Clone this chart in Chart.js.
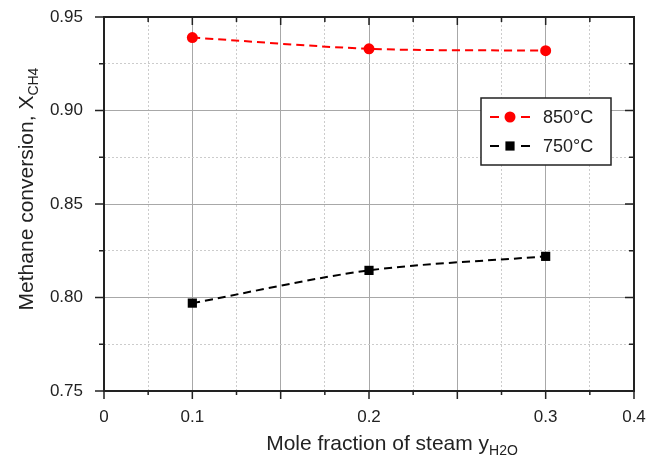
<!DOCTYPE html>
<html>
<head>
<meta charset="utf-8">
<title>Methane conversion vs steam fraction</title>
<script src="https://cdn.jsdelivr.net/npm/chart.js"></script>
<style>
  html, body { margin: 0; padding: 0; background: #fff; }
</style>
</head>
<body>
<canvas id="chart" width="661" height="457"></canvas>
<script>
// data
const steamFraction = [0.1, 0.2, 0.3];
const conv850 = [0.939, 0.933, 0.932];
const conv750 = [0.797, 0.8145, 0.822];
const seriesLabels = ['850°C', '750°C'];

// tick labels as printed on the original axes
const xTickValues = [0.05, 0.1, 0.2, 0.3, 0.35];
const xTickLabels = ['0', '0.1', '0.2', '0.3', '0.4'];
const yTickValues = [0.75, 0.8, 0.85, 0.9, 0.95];
const yTickLabels = ['0.75', '0.80', '0.85', '0.90', '0.95'];

const FONT = "'Liberation Sans', Arial, sans-serif";
const INK = '#222';

function isMajor(v) { return Math.round(v * 1000) % 50 === 0; }
function labelFor(values, labels, v) {
    const i = values.findIndex(t => Math.abs(t - v) < 1e-6);
    return i < 0 ? '' : labels[i];
}
const gridColor = c => (c.tick && isMajor(c.tick.value)) ? '#a8a8a8' : '#cccccc';
const gridDash = c => (c.tick && !isMajor(c.tick.value)) ? [2, 2] : [];

function drawSub(ctx, x, y, main, sub, size, subSize) {
    ctx.font = size + 'px ' + FONT;
    ctx.fillText(main, x, y);
    const w = ctx.measureText(main).width;
    ctx.font = subSize + 'px ' + FONT;
    ctx.fillText(sub, x + w, y + 5);
}
function subWidth(ctx, main, sub, size, subSize) {
    ctx.font = size + 'px ' + FONT;
    const w = ctx.measureText(main).width;
    ctx.font = subSize + 'px ' + FONT;
    return w + ctx.measureText(sub).width;
}

const decorations = {
    id: 'decorations',
    afterDatasetsDraw(chart) {
        const ctx = chart.ctx;
        const a = chart.chartArea;
        const xs = chart.scales.x, ys = chart.scales.y;
        ctx.save();
        ctx.strokeStyle = INK;
        ctx.lineWidth = 2;
        ctx.strokeRect(a.left, a.top, a.right - a.left, a.bottom - a.top);

        // tick marks: outward on left/bottom, inward on top/right
        ctx.lineWidth = 1.5;
        ctx.beginPath();
        xs.ticks.forEach(t => {
            const px = xs.getPixelForValue(t.value);
            const m = isMajor(t.value);
            ctx.moveTo(px, a.bottom); ctx.lineTo(px, a.bottom + (m ? 8 : 4));
            ctx.moveTo(px, a.top); ctx.lineTo(px, a.top + (m ? 8 : 5));
        });
        ys.ticks.forEach(t => {
            const py = ys.getPixelForValue(t.value);
            const m = isMajor(t.value);
            ctx.moveTo(a.left, py); ctx.lineTo(a.left - (m ? 9 : 5), py);
            ctx.moveTo(a.right, py); ctx.lineTo(a.right - (m ? 9 : 5), py);
        });
        ctx.stroke();

        // legend box
        ctx.lineWidth = 1.5;
        ctx.fillStyle = '#fff';
        ctx.fillRect(481, 98, 130, 67);
        ctx.strokeRect(481, 98, 130, 67);
        chart.data.datasets.forEach((ds, i) => {
            const y = 117 + i * 29;
            ctx.strokeStyle = ds.borderColor;
            ctx.lineWidth = ds.borderWidth;
            ctx.beginPath();
            ctx.moveTo(490, y); ctx.lineTo(499, y);
            ctx.moveTo(521, y); ctx.lineTo(530, y);
            ctx.stroke();
            ctx.fillStyle = ds.pointBackgroundColor;
            ctx.beginPath();
            if (ds.pointStyle === 'rect') {
                const s = ds.pointRadius * Math.SQRT1_2;
                ctx.rect(510 - s, y - s, 2 * s, 2 * s);
            } else {
                ctx.arc(510, y, ds.pointRadius, 0, Math.PI * 2);
            }
            ctx.fill();
            ctx.fillStyle = INK;
            ctx.font = '18px ' + FONT;
            ctx.textBaseline = 'middle';
            ctx.textAlign = 'left';
            ctx.fillText(ds.label, 543, y + 1);
        });

        // axis titles with subscripts
        ctx.fillStyle = INK;
        ctx.textBaseline = 'alphabetic';
        ctx.textAlign = 'left';
        const xw = subWidth(ctx, 'Mole fraction of steam y', 'H2O', 21, 14);
        drawSub(ctx, 392 - xw / 2, 450, 'Mole fraction of steam y', 'H2O', 21, 14);

        ctx.translate(33, 189);
        ctx.rotate(-Math.PI / 2);
        const yw = subWidth(ctx, 'Methane conversion, X', 'CH4', 21, 14);
        drawSub(ctx, -yw / 2, 0, 'Methane conversion, X', 'CH4', 21, 14);
        ctx.restore();
    }
};

new Chart(document.getElementById('chart'), {
    type: 'line',
    data: {
        datasets: [{
            label: seriesLabels[0],
            data: steamFraction.map((x, i) => ({ x: x, y: conv850[i] })),
            borderColor: '#ff0000',
            backgroundColor: '#ff0000',
            pointBackgroundColor: '#ff0000',
            pointBorderWidth: 0,
            borderWidth: 2,
            borderDash: [8, 5],
            pointStyle: 'circle',
            pointRadius: 5.5,
            tension: 0.3
        }, {
            label: seriesLabels[1],
            data: steamFraction.map((x, i) => ({ x: x, y: conv750[i] })),
            borderColor: '#000000',
            backgroundColor: '#000000',
            pointBackgroundColor: '#000000',
            pointBorderWidth: 0,
            borderWidth: 2,
            borderDash: [8, 5],
            pointStyle: 'rect',
            pointRadius: 6.5,
            tension: 0.3
        }]
    },
    options: {
        responsive: false,
        animation: false,
        layout: { padding: { top: 17, right: 27, left: 0, bottom: 0 } },
        plugins: { legend: { display: false }, tooltip: { enabled: false } },
        scales: {
            x: {
                type: 'linear',
                min: 0.05,
                max: 0.35,
                afterFit: s => { s.height = 66; s.paddingLeft = 0; s.paddingRight = 0; },
                ticks: {
                    stepSize: 0.025,
                    autoSkip: false,
                    maxRotation: 0,
                    padding: 16,
                    color: INK,
                    font: { family: FONT, size: 17 },
                    callback: v => labelFor(xTickValues, xTickLabels, v)
                },
                grid: { drawTicks: false, color: gridColor, lineWidth: 1 },
                border: { display: false, dash: gridDash }
            },
            y: {
                min: 0.75,
                max: 0.95,
                afterFit: s => { s.width = 104; s.paddingTop = 0; s.paddingBottom = 0; },
                ticks: {
                    stepSize: 0.025,
                    autoSkip: false,
                    padding: 21,
                    color: INK,
                    font: { family: FONT, size: 17 },
                    callback: v => labelFor(yTickValues, yTickLabels, v)
                },
                grid: { drawTicks: false, color: gridColor, lineWidth: 1 },
                border: { display: false, dash: gridDash }
            }
        }
    },
    plugins: [decorations]
});
</script>
</body>
</html>
